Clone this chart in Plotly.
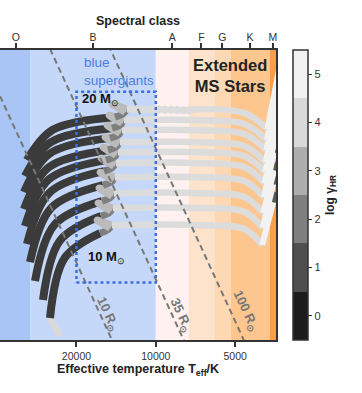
import numpy as np
import plotly.graph_objects as go

# spectral classes on the top axis
spec_class = ["O", "B", "A", "F", "G", "K", "M"]
spec_teff = [34000, 17300, 8660, 6710, 5590, 4390, 3600]

# background bands (class boundaries in K)
band_edges = [39000, 30000, 10000, 7500, 6000, 5200, 3700, 3500]
band_colors = ["#a9c5f6", "#c6d8fa", "#fef1ef", "#fde3cb", "#fdd8b3", "#fdc68e", "#fb9e48"]

logl_range = [3.62, 5.64]

# iso-radius lines
radii = [10, 35, 100]
radius_label_teff = [15200, 8030, 4550]
radius_label_logl = [3.80, 3.79, 3.82]

# blue supergiant box
bsg_teff = [20000, 10000]
bsg_logl = [4.02, 5.35]

# colour bar: log gamma_HR
gamma_ticks = [0, 1, 2, 3, 4, 5]
gamma_colors = ["#1c1c1c", "#4f4f4f", "#7f7f7f", "#aeaeae", "#d9d9d9", "#f2f2f2"]

# evolutionary tracks, 10 ... 20 Msun (key points)
zams_teff = [25200, 26790, 28720, 30010, 30810, 31350, 31620, 31620, 31350, 30810]
zams_logl = [3.773, 3.898, 4.031, 4.163, 4.288, 4.413, 4.532, 4.650, 4.761, 4.873]
mid_teff = [22180, 23090, 24200, 24890, 25290, 25490, 25510, 25380, 25080, 24590]
mid_logl = [4.191, 4.312, 4.424, 4.541, 4.647, 4.738, 4.822, 4.916, 4.997, 5.084]
tams_teff = [16280, 16140, 16000, 15860, 15720, 15450, 15180, 14920, 14660, 14280]
tams_logl = [4.365, 4.483, 4.587, 4.699, 4.796, 4.873, 4.942, 5.026, 5.095, 5.172]
loop_teff = [14930, 14800, 14670, 14540, 14420, 14170, 13920, 13680, 13440, 13090]
loop_logl = [4.399, 4.518, 4.622, 4.733, 4.831, 4.907, 4.977, 5.060, 5.130, 5.207]
hook_teff = [16700, 16560, 16420, 16270, 16130, 15850, 15570, 15310, 15040, 14650]
hook_logl = [4.455, 4.574, 4.678, 4.789, 4.887, 4.963, 5.033, 5.116, 5.186, 5.263]
cross_teff = [14670, 14540, 14420, 14290, 14160, 13920, 13680, 13440, 13210, 12870]
cross_logl = [4.420, 4.539, 4.643, 4.754, 4.852, 4.928, 4.998, 5.081, 5.151, 5.228]
gap_teff = [6800, 6800, 6800, 6800, 6800, 6800, 6800, 6800, 6800, 6800]
knee_teff = [4600, 4600, 4600, 4600, 4600, 4600, 4600, 4600, 4600, 4600]
knee_logl = [4.392, 4.511, 4.615, 4.726, 4.824, 4.900, 4.970, 5.053, 5.123, 5.200]
min_teff = [3950, 3930, 3910, 3890, 3870, 3850, 3830, 3810, 3790, 3770]
min_logl = [4.281, 4.400, 4.504, 4.615, 4.713, 4.789, 4.859, 4.942, 5.012, 5.089]
tip_teff = [3590, 3590, 3560, 3560, 3380, 3380, 3380, 3380, 3380, 3380]
tip_logl = [4.580, 4.706, 4.803, 4.928, 5.162, 5.238, 5.308, 5.391, 5.461, 5.538]
end_teff = [3530, 3530, 3500, 3500, 3300, 3300, 3300, 3300, 3300, 3300]
end_logl = [4.650, 4.761, 4.859, 4.991, 5.212, 5.288, 5.358, 5.441, 5.511, 5.588]
tail_teff = [25200, 23100]
tail_logl = [3.77, 3.65]

# fast (sparsely sampled) part of the 20 Msun crossing
fast_teff = [10300, 9750, 9250, 8750, 8300, 7850, 7450]
fast_logl = [5.226, 5.225, 5.224, 5.223, 5.222, 5.221, 5.220]

# log gamma of each phase
gamma_ms, gamma_hook1, gamma_hook2 = 0.6, 2.0, 3.3
gamma_gap, gamma_rsg, gamma_end, gamma_tail = 4.1, 5.0, 1.2, 4.0

TSUN = 5772


def gray(g):
    v = int(round(np.interp(g, gamma_ticks, [28, 79, 127, 174, 217, 242])))
    return f"rgb({v},{v},{v})"


def seg(xs, ys, g, w=7):
    return go.Scatter(x=xs, y=ys, mode="lines", hoverinfo="skip", showlegend=False,
                      line=dict(color=gray(g), width=w, shape="spline"))


fig = go.Figure()

# background bands
for i, col in enumerate(band_colors):
    t0, t1 = band_edges[i], band_edges[i + 1]
    fig.add_trace(go.Scatter(x=[t0, t1, t1, t0, t0],
                             y=[logl_range[0], logl_range[0], logl_range[1], logl_range[1], logl_range[0]],
                             mode="lines", fill="toself", fillcolor=col, line_width=0,
                             hoverinfo="skip", showlegend=False))

fig.add_trace(seg(tail_teff, tail_logl, gamma_tail))

n = len(zams_teff)
for k in range(n):
    fig.add_trace(seg([zams_teff[k], mid_teff[k], tams_teff[k]],
                      [zams_logl[k], mid_logl[k], tams_logl[k]], gamma_ms, 8))

for k in range(n):
    fig.add_trace(seg([tams_teff[k], loop_teff[k], hook_teff[k]],
                      [tams_logl[k], loop_logl[k], hook_logl[k]], gamma_hook1))
    fig.add_trace(seg([loop_teff[k], hook_teff[k], cross_teff[k]],
                      [loop_logl[k], hook_logl[k], cross_logl[k]], gamma_hook2))
    if k == n - 1:
        fig.add_trace(seg([cross_teff[k], fast_teff[0]],
                          [cross_logl[k], fast_logl[0]], gamma_gap, 6.5))
        fig.add_trace(go.Scatter(x=fast_teff, y=fast_logl, mode="markers", hoverinfo="skip",
                                 showlegend=False,
                                 marker=dict(size=8, color=gray(gamma_gap), line_width=0)))
        fig.add_trace(seg([fast_teff[-1], gap_teff[k], knee_teff[k], min_teff[k]],
                          [fast_logl[-1], cross_logl[k], knee_logl[k], min_logl[k]],
                          gamma_gap, 6.5))
    else:
        fig.add_trace(seg([cross_teff[k], gap_teff[k], knee_teff[k], min_teff[k]],
                          [cross_logl[k], cross_logl[k], knee_logl[k], min_logl[k]],
                          gamma_gap, 6.5))
    fig.add_trace(seg([min_teff[k], tip_teff[k]], [min_logl[k], tip_logl[k]], gamma_rsg, 6))
    fig.add_trace(seg([tip_teff[k], end_teff[k]], [tip_logl[k], end_logl[k]], gamma_end, 5))

# iso-radius lines: L = R^2 (T/Tsun)^4
t_end = np.array([band_edges[0], band_edges[-1]])
for r in radii:
    logl = 2 * np.log10(r) + 4 * np.log10(t_end / TSUN)
    fig.add_trace(go.Scatter(x=t_end, y=logl, mode="lines", hoverinfo="skip", showlegend=False,
                             line=dict(color="#777777", width=2, dash="6px,4px")))

for r, t, l in zip(radii, radius_label_teff, radius_label_logl):
    fig.add_annotation(x=np.log10(t), y=l, xref="x", yref="y", showarrow=False, textangle=65,
                       xanchor="center", yanchor="middle",
                       text=f"<b>{r} R<sub>⊙</sub></b>", font=dict(size=13, color="#777777"))

# blue supergiant box
fig.add_trace(go.Scatter(x=[bsg_teff[0], bsg_teff[1], bsg_teff[1], bsg_teff[0], bsg_teff[0]],
                         y=[bsg_logl[0], bsg_logl[0], bsg_logl[1], bsg_logl[1], bsg_logl[0]],
                         mode="lines", hoverinfo="skip", showlegend=False,
                         line=dict(color="#3b6fdc", width=2.5, dash="dot")))

# colour bar carrier
n_c = len(gamma_colors)
cscale = []
for i, c in enumerate(gamma_colors):
    cscale += [[i / n_c, c], [(i + 1) / n_c, c]]
fig.add_trace(go.Scatter(
    x=[1e6], y=[0], mode="markers", hoverinfo="skip", showlegend=False,
    marker=dict(color=[0], colorscale=cscale, cmin=-0.5, cmax=5.5, opacity=0, showscale=True,
                colorbar=dict(x=1.0616, xanchor="left", y=0.5, yanchor="middle", len=1,
                              xpad=0, ypad=0, thickness=15, outlinewidth=1.5, outlinecolor="#333",
                              tickvals=gamma_ticks, ticks="outside", ticklen=4,
                              tickcolor="#333", tickfont=dict(size=11, color="#333"),
                              title=dict(text="<b>log γ<sub>HR</sub></b>", side="right",
                                         font=dict(size=12, color="#222"))))))

# dummy trace for the top axis
fig.add_trace(go.Scatter(x=[1e6], y=[0], xaxis="x2", mode="markers", hoverinfo="skip",
                         showlegend=False, marker=dict(opacity=0)))

fig.add_annotation(xref="paper", yref="paper", x=0.297, y=0.925, xanchor="left", yanchor="middle",
                   align="left", showarrow=False, text="blue<br>supergiants",
                   font=dict(size=13.5, color="#4a7fe0"))
fig.add_annotation(xref="paper", yref="paper", x=0.835, y=0.911, xanchor="center", yanchor="middle",
                   showarrow=False, text="<b>Extended<br>MS Stars</b>",
                   font=dict(size=16.5, color="#222"))
fig.add_annotation(xref="paper", yref="paper", x=0.29, y=0.831, xanchor="left", yanchor="middle",
                   showarrow=False, text="<b>20 M</b><sub>⊙</sub>", font=dict(size=13, color="#111"))
fig.add_annotation(xref="paper", yref="paper", x=0.312, y=0.286, xanchor="left", yanchor="middle",
                   showarrow=False, text="<b>10 M</b><sub>⊙</sub>", font=dict(size=13, color="#111"))

xr = [np.log10(band_edges[0]), np.log10(band_edges[-1])]
fig.update_layout(
    width=362, height=393, margin=dict(l=0, r=86, t=50, b=53),
    plot_bgcolor="white", paper_bgcolor="white", showlegend=False,
    font=dict(family="Arial, Liberation Sans, sans-serif", size=12, color="#333"),
    xaxis=dict(type="log", range=xr, tickvals=[20000, 10000, 5000],
               ticktext=["20000", "10000", "5000"], ticks="outside", ticklen=5,
               tickwidth=1.5, tickcolor="#333", tickfont=dict(size=10.5),
               showline=True, linewidth=2, linecolor="#333",
               showgrid=False, zeroline=False, automargin=False,
               title=dict(text="<b>Effective temperature T<sub>eff</sub>/K</b>",
                          font=dict(size=12.5, color="#222"), standoff=4)),
    xaxis2=dict(type="log", range=xr, overlaying="x", side="top", tickvals=spec_teff,
                ticktext=spec_class, ticks="outside", ticklen=5, tickwidth=1.5,
                tickcolor="#333", tickfont=dict(size=10.5), ticklabelstandoff=-2,
                showline=True, linewidth=2, linecolor="#333",
                showgrid=False, zeroline=False, automargin=False,
                title=dict(text="<b>Spectral class</b>", font=dict(size=12.5, color="#222"),
                           standoff=2)),
    yaxis=dict(range=logl_range, showticklabels=False, ticks="", showgrid=False,
               zeroline=False, side="right", showline=True, linewidth=2, linecolor="#333",
               automargin=False),
)

fig.write_html("out.html", config={"displayModeBar": False},
               post_script="document.body.style.margin='0';")
